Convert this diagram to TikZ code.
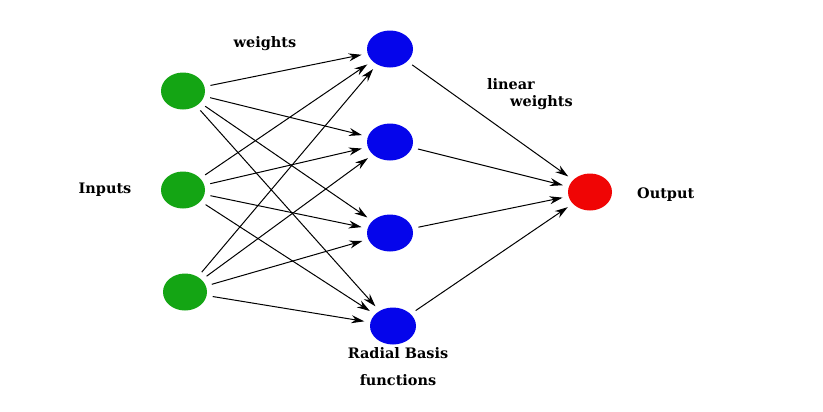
\documentclass[tikz,border=0pt]{standalone}
\usepackage{fontspec}
\setmainfont{DejaVu Serif}
\usetikzlibrary{arrows.meta,shapes.geometric}
\begin{document}
\begin{tikzpicture}[x=1bp,y=-1bp,
  unit/.style={ellipse,minimum width=#1,minimum height=37bp,inner sep=0pt,draw=none},
  inp/.style={unit=44bp,fill={rgb,255:red,20;green,165;blue,20}},
  rbf/.style={unit=46bp,fill={rgb,255:red,5;green,5;blue,235}},
  outn/.style={unit=44bp,fill={rgb,255:red,240;green,5;blue,5}},
  lbl/.style={font=\bfseries\fontsize{14.5}{17}\selectfont,inner sep=0pt},
  conn/.style={-{Stealth[length=13bp,width=8bp]},line width=1bp,shorten <=6bp,shorten >=6bp}
]
\useasboundingbox (0,0) rectangle (823,411);
\node[inp] (i1) at (183,91) {};
\node[inp] (i2) at (183,190) {};
\node[inp] (i3) at (185,292) {};
\node[rbf] (h1) at (390,49) {};
\node[rbf] (h2) at (390,142) {};
\node[rbf] (h3) at (390,233) {};
\node[rbf] (h4) at (393,326) {};
\node[outn] (o) at (590,192) {};
\foreach \i in {i1,i2,i3}{
  \foreach \h in {h1,h2,h3,h4}{
    \draw[conn] (\i) -- (\h);
  }
}
\foreach \h in {h1,h2,h3,h4}{
  \draw[conn] (\h) -- (o);
}
\node[lbl] (tw) at (265,44) {weights};
\node[lbl] (tin) at (105,190) {Inputs};
\node[lbl,anchor=west] (tl1) at (487,84) {linear};
\node[lbl,anchor=west] (tl2) at (510,103) {weights};
\node[lbl,anchor=west] (tout) at (637,195) {Output};
\node[lbl] (tr1) at (398,353) {Radial Basis};
\node[lbl] (tr2) at (398,380) {functions};
\end{tikzpicture}
\end{document}
